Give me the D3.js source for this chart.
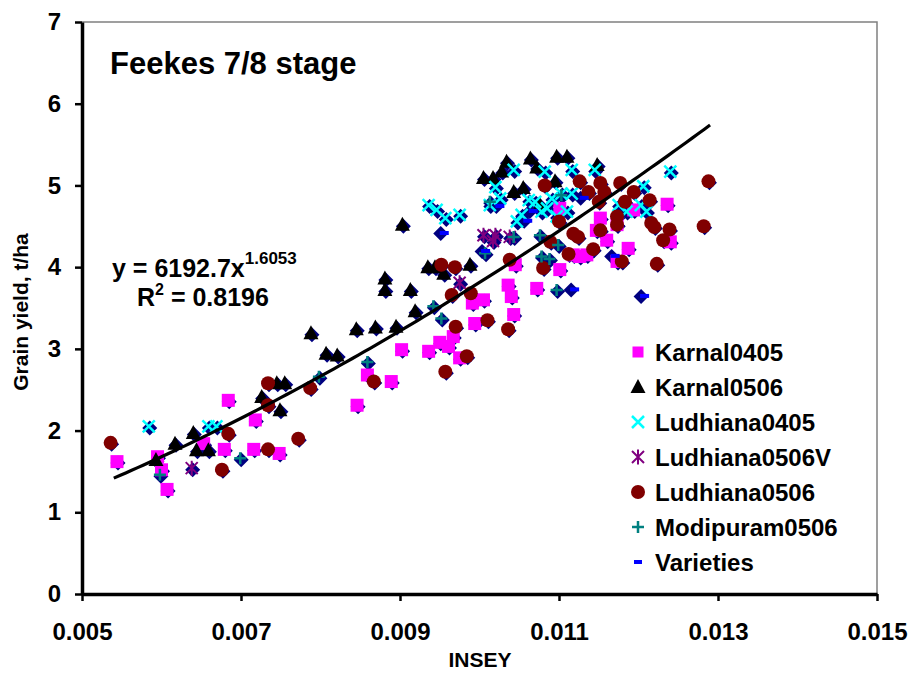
<!DOCTYPE html>
<html><head><meta charset="utf-8">
<script src="https://cdn.jsdelivr.net/npm/d3@7"></script>
<style>
body{margin:0;background:#fff}
svg{font-family:"Liberation Sans",Arial,sans-serif;font-weight:bold}
</style>
</head><body><svg id="c" width="909" height="685"></svg>
<script>
const xTicks=[0.005,0.007,0.009,0.011,0.013,0.015];
const yTicks=[0,1,2,3,4,5,6,7];
const seriesNames=["Karnal0405","Karnal0506","Ludhiana0405","Ludhiana0506V","Ludhiana0506","Modipuram0506","Varieties"];
const karnal0405=[[0.00544,1.62],[0.00595,1.68],[0.00600,1.52],[0.00607,1.28],[0.00653,1.84],[0.00679,1.77],[0.00684,2.37],[0.00716,1.77],[0.00718,2.13],[0.00748,1.72],[0.00846,2.31],[0.00859,2.68],[0.00889,2.60],[0.00902,2.99],[0.00936,2.97],[0.00950,3.08],[0.00961,3.03],[0.00967,3.15],[0.00975,2.89],[0.00991,3.56],[0.00994,3.31],[0.01005,3.60],[0.01036,3.78],[0.01040,3.64],[0.01043,3.42],[0.01045,4.03],[0.01072,3.74],[0.01101,3.97],[0.01101,4.72],[0.01118,4.15],[0.01126,4.13],[0.01135,4.15],[0.01147,4.45],[0.01152,4.60],[0.01160,4.33],[0.01173,4.07],[0.01173,4.52],[0.01187,4.23],[0.01194,4.70],[0.01236,4.77],[0.01240,4.31]];
const karnal0506=[[0.00593,1.64],[0.00617,1.84],[0.00640,1.97],[0.00644,1.76],[0.00659,1.76],[0.00726,2.41],[0.00749,2.25],[0.00745,2.58],[0.00755,2.58],[0.00788,3.19],[0.00807,2.94],[0.00821,2.92],[0.00845,3.24],[0.00869,3.26],[0.00881,3.86],[0.00881,3.72],[0.00895,3.27],[0.00913,3.72],[0.00903,4.52],[0.00919,3.46],[0.00935,4.00],[0.00944,4.00],[0.00955,3.92],[0.00988,4.03],[0.01005,5.09],[0.01017,5.09],[0.01028,5.17],[0.01034,5.29],[0.01043,4.92],[0.01055,4.97],[0.01064,5.33],[0.01072,5.22],[0.01076,4.76],[0.01095,5.05],[0.01097,5.35],[0.01110,5.35],[0.01148,5.25]];
const ludhiana0405=[[0.00584,2.05],[0.00659,2.05],[0.00669,2.05],[0.00936,4.76],[0.00946,4.70],[0.00957,4.60],[0.00975,4.64],[0.01013,4.76],[0.01020,4.98],[0.01026,4.84],[0.01043,5.19],[0.01047,4.56],[0.01053,4.64],[0.01062,4.82],[0.01070,4.80],[0.01078,4.68],[0.01082,5.17],[0.01085,4.72],[0.01091,4.84],[0.01097,4.62],[0.01103,4.90],[0.01110,4.68],[0.01116,4.90],[0.01116,5.19],[0.01145,5.19],[0.01175,4.76],[0.01185,4.68],[0.01203,4.76],[0.01206,4.99],[0.01210,4.68],[0.01240,5.17]];
const ludhiana0506V=[[0.00638,1.54],[0.00975,3.81],[0.01005,4.39],[0.01017,4.32],[0.01020,4.39],[0.01038,4.37]];
const ludhiana0506=[[0.00536,1.85],[0.00676,1.52],[0.00684,1.96],[0.00734,2.58],[0.00734,2.31],[0.00734,1.77],[0.00772,1.90],[0.00787,2.52],[0.00867,2.60],[0.00952,4.03],[0.00957,2.72],[0.00965,3.66],[0.00970,3.27],[0.00969,4.00],[0.00984,2.91],[0.00989,3.68],[0.01010,3.35],[0.01036,3.24],[0.01038,4.09],[0.01080,3.99],[0.01082,5.00],[0.01089,4.31],[0.01100,4.56],[0.01112,4.16],[0.01118,4.41],[0.01124,4.37],[0.01126,5.05],[0.01137,4.92],[0.01143,4.22],[0.01152,4.45],[0.01152,5.03],[0.01157,4.92],[0.01150,4.80],[0.01173,4.62],[0.01173,4.52],[0.01177,5.03],[0.01179,4.07],[0.01183,4.80],[0.01194,4.92],[0.01214,4.82],[0.01216,4.54],[0.01220,4.49],[0.01223,4.04],[0.01231,4.33],[0.01239,4.46],[0.01282,4.50],[0.01288,5.05]];
const modipuram0506=[[0.00598,1.46],[0.00699,1.66],[0.00798,2.66],[0.00859,2.84],[0.00942,3.52],[0.00952,3.37],[0.01007,4.17],[0.01013,4.80],[0.01043,4.37],[0.01076,4.39],[0.01078,4.13],[0.01088,4.10],[0.01097,3.72],[0.01099,4.27],[0.01103,4.88]];
const varieties=[[0.00950,4.43],[0.01002,4.21],[0.01055,4.58],[0.01114,3.74],[0.01165,4.15],[0.01202,3.66],[0.01126,4.86],[0.01020,4.76],[0.01062,4.70]];
const trendCoef=6192.7, trendExp=1.6053, trendRange=[0.0054,0.0129];

const svg=d3.select("#c");
const L=82,R=877,T=22,B=594;
const x=d3.scaleLinear().domain([0.005,0.015]).range([L,R]);
const y=d3.scaleLinear().domain([0,7]).range([B,T]);

svg.append("path").attr("d",`M${L},${T}H${R}V${B}`).attr("fill","none").attr("stroke","#808080").attr("stroke-width",1.5);

const g=svg.append("g");
const all=[].concat(karnal0405,karnal0506,ludhiana0405,ludhiana0506V,ludhiana0506,modipuram0506,varieties);
const dia="M0,-7.5L7.5,0L0,7.5L-7.5,0Z";
g.selectAll("path.bg").data(all).join("path").attr("class","bg").attr("d",dia)
 .attr("transform",d=>`translate(${x(d[0])+1},${y(d[1])+1.5})`).attr("fill","#000080");

function layer(data,draw){const s=g.append("g");s.selectAll("g").data(data).join("g").attr("transform",d=>`translate(${x(d[0])},${y(d[1])})`).each(function(){draw(d3.select(this));});}
const drawSq=s=>s.append("rect").attr("x",-6.5).attr("y",-6.5).attr("width",13).attr("height",13).attr("fill","#FF00FF");
const drawTri=s=>s.append("path").attr("d","M0,-8L7.5,6L-7.5,6Z").attr("fill","#000");
const drawX=s=>s.append("path").attr("d","M-6,-6L6,6M-6,6L6,-6").attr("stroke","#00FFFF").attr("stroke-width",2.5).attr("fill","none");
const drawAst=s=>s.append("path").attr("d","M-6,-6L6,6M-6,6L6,-6M0,-7.5V7.5").attr("stroke","#800080").attr("stroke-width",2).attr("fill","none");
const drawCirc=s=>s.append("circle").attr("r",7).attr("fill","#800000");
const drawPlus=s=>s.append("path").attr("d","M-6,0H6M0,-6V6").attr("stroke","#008080").attr("stroke-width",2.5).attr("fill","none");
const drawDash=s=>s.append("rect").attr("x",-4.5).attr("y",-2).attr("width",9).attr("height",4).attr("fill","#0000FF");

layer(karnal0405,drawSq);
layer(karnal0506,drawTri);
layer(ludhiana0405,drawX);
layer(ludhiana0506V,drawAst);
layer(ludhiana0506,drawCirc);
layer(modipuram0506,drawPlus);
const vs=g.append("g");
vs.selectAll("rect").data(varieties).join("rect").attr("x",d=>x(d[0])).attr("y",d=>y(d[1])-1).attr("width",9).attr("height",4).attr("fill","#0000FF");

const tx=d3.range(0,101).map(i=>trendRange[0]+(trendRange[1]-trendRange[0])*i/100);
svg.append("path").datum(tx).attr("fill","none").attr("stroke","#000").attr("stroke-width",3.2)
 .attr("d",d3.line().x(v=>x(v)).y(v=>y(trendCoef*Math.pow(v,trendExp))));

const ax=svg.append("g").attr("transform",`translate(0,${B})`)
 .call(d3.axisBottom(x).tickValues(xTicks).tickFormat(d3.format(".3f")).tickSize(7).tickSizeOuter(0).tickPadding(22));
const ay=svg.append("g").attr("transform",`translate(${L},0)`)
 .call(d3.axisLeft(y).tickValues(yTicks).tickFormat(d3.format("d")).tickSize(7).tickSizeOuter(0).tickPadding(14));
[ax,ay].forEach(a=>{a.select(".domain").attr("stroke","#000").attr("stroke-width",3.5);
 a.selectAll(".tick line").attr("stroke","#000").attr("stroke-width",2.5);
 a.selectAll(".tick text").attr("fill","#000").style("font-size","24px").style("font-family","'Liberation Sans',Arial,sans-serif").style("font-weight","bold");});

svg.append("text").attr("x",110).attr("y",74).style("font-size","31px").text("Feekes 7/8 stage");
svg.append("text").attr("transform","translate(28,312) rotate(-90)").attr("text-anchor","middle").style("font-size","21px").text("Grain yield, t/ha");
svg.append("text").attr("x",480).attr("y",667).attr("text-anchor","middle").style("font-size","21px").text("INSEY");
const eq=svg.append("text").attr("x",112).attr("y",277).style("font-size","25px");
eq.append("tspan").text("y = 6192.7x");
eq.append("tspan").attr("dy",-13).style("font-size","17px").text("1.6053");
const r2=svg.append("text").attr("x",137).attr("y",306).style("font-size","25px");
r2.append("tspan").text("R");
r2.append("tspan").attr("dy",-11).style("font-size","16px").text("2");
r2.append("tspan").attr("dy",11).text(" = 0.8196");

const lg=svg.append("g");
const drawers=[drawSq,drawTri,drawX,drawAst,drawCirc,drawPlus,drawDash];
const ly0=352, ldy=35;
seriesNames.forEach((n,i)=>{
 const r=lg.append("g").attr("transform",`translate(638,${ly0+i*ldy})`);
 if(i===0) r.append("rect").attr("x",-5.5).attr("y",-5.5).attr("width",11).attr("height",11).attr("fill","#FF00FF");
 else if(i===6) r.append("rect").attr("x",-4).attr("y",-2).attr("width",8).attr("height",4).attr("fill","#0000FF");
 else drawers[i](r);
 r.append("text").attr("x",17).attr("y",8.5).style("font-size","24px").text(n);
});
</script></body></html>
